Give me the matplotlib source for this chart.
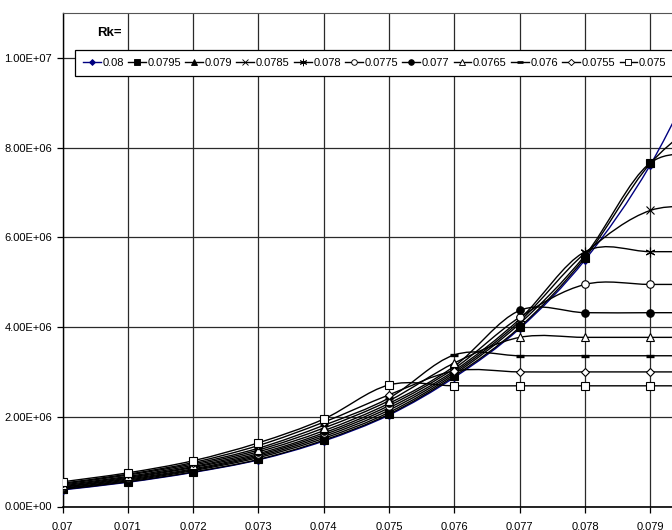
# -*- coding: utf-8 -*-

#%% Import required libraries
import matplotlib
matplotlib.use('Agg')
import matplotlib.pyplot as plt
import numpy as np
from matplotlib.path import Path
from matplotlib.patches import PathPatch
from matplotlib.lines import Line2D

plt.rcParams['font.family'] = ['Liberation Sans Narrow', 'Liberation Sans', 'DejaVu Sans']

#%% Data (values in millions)
x_vals = [0.070, 0.071, 0.072, 0.073, 0.074, 0.075, 0.076, 0.077, 0.078, 0.079, 0.080]
x_ticks = [0.070, 0.071, 0.072, 0.073, 0.074, 0.075, 0.076, 0.077, 0.078, 0.079]
x_labels = ['0.07', '0.071', '0.072', '0.073', '0.074', '0.075', '0.076', '0.077', '0.078', '0.079']
y_ticks = [0, 2e6, 4e6, 6e6, 8e6, 1e7]

rk_labels = ['0.08', '0.0795', '0.079', '0.0785', '0.078', '0.0775',
             '0.077', '0.0765', '0.076', '0.0755', '0.075']

p_080  = [0.37, 0.54, 0.76, 1.04, 1.46, 2.04, 2.88, 3.97, 5.50, 7.62, 10.5]
p_0795 = [0.38, 0.55, 0.77, 1.05, 1.48, 2.06, 2.91, 4.00, 5.55, 7.65, 8.85]
p_079  = [0.40, 0.57, 0.80, 1.09, 1.52, 2.10, 2.95, 4.08, 5.60, 7.66, 7.78]
p_0785 = [0.41, 0.59, 0.82, 1.12, 1.56, 2.15, 2.99, 4.13, 5.65, 6.60, 6.65]
p_078  = [0.43, 0.61, 0.84, 1.15, 1.60, 2.20, 3.03, 4.18, 5.68, 5.68, 5.68]
p_0775 = [0.44, 0.63, 0.87, 1.18, 1.64, 2.25, 3.08, 4.22, 4.95, 4.95, 4.95]
p_077  = [0.46, 0.65, 0.89, 1.22, 1.69, 2.30, 3.13, 4.37, 4.32, 4.32, 4.32]
p_0765 = [0.48, 0.67, 0.92, 1.26, 1.75, 2.36, 3.20, 3.77, 3.77, 3.77, 3.77]
p_076  = [0.50, 0.70, 0.95, 1.30, 1.81, 2.42, 3.38, 3.36, 3.36, 3.36, 3.36]
p_0755 = [0.52, 0.72, 0.98, 1.36, 1.88, 2.49, 3.02, 3.00, 3.00, 3.00, 3.00]
p_075  = [0.55, 0.75, 1.02, 1.42, 1.95, 2.71, 2.69, 2.69, 2.69, 2.69, 2.69]

series = [p_080, p_0795, p_079, p_0785, p_078, p_0775, p_077, p_0765, p_076, p_0755, p_075]

#%% Styles (Excel-like markers)
line_col = ['#000080'] + ['black'] * 10
mk = ['D', 's', '^', 'x', (6, 2, 0), 'o', 'o', '^', '_', 'D', 's']
mk_face = ['#000080', 'black', 'black', 'black', 'black', 'white', 'black', 'white', 'black', 'white', 'white']
mk_size = [4.0, 5.2, 5.5, 6.0, 7.0, 5.4, 5.4, 5.5, 5.5, 4.3, 5.4]
mk_ew = [0.8, 0.8, 0.8, 0.8, 0.8, 0.8, 0.8, 0.8, 2.4, 0.8, 0.8]


def smooth_path(xs, ys):
    # Catmull-Rom style bezier through the points, like Excel's smoothed line
    pts = np.column_stack([xs, ys])
    n = len(pts)
    verts = [pts[0]]
    codes = [Path.MOVETO]
    for i in range(n - 1):
        p0 = pts[i - 1] if i > 0 else pts[i]
        p1 = pts[i]
        p2 = pts[i + 1]
        p3 = pts[i + 2] if i + 2 < n else pts[i + 1]
        verts += [p1 + (p2 - p0) / 6, p2 - (p3 - p1) / 6, p2]
        codes += [Path.CURVE4] * 3
    return Path(verts, codes)


#%% Plot
fig = plt.figure(figsize=(6.72, 5.30), dpi=100)
ax = fig.add_axes([62.5 / 672, 1 - 506.5 / 530, 1 - 62.5 / 672, 493.5 / 530])

for k, vals in enumerate(series):
    yv = np.array(vals) * 1e6
    patch = PathPatch(smooth_path(np.array(x_vals), yv), facecolor='none',
                      edgecolor=line_col[k], lw=1.0, zorder=3 + 2 * k)
    ax.add_patch(patch)
    ax.plot(x_vals, yv, linestyle='none', marker=mk[k], ms=mk_size[k],
            mfc=mk_face[k], mec=line_col[k], mew=mk_ew[k], zorder=4 + 2 * k)

ax.set_xlim(0.07, 0.07933)
ax.set_ylim(0, 1.1e7)
ax.set_xticks(x_ticks)
ax.set_xticklabels(x_labels)
ax.set_yticks(y_ticks)
ax.set_yticklabels(['%.2E' % v for v in y_ticks])
ax.tick_params(axis='both', direction='out', length=4, width=0.9, labelsize=8, colors='black')
ax.tick_params(axis='x', pad=7.5)
ax.tick_params(axis='y', pad=3.5)

ax.grid(True, color='#2a2a2a', lw=0.9)
ax.set_axisbelow(True)
ax.spines['right'].set_visible(False)
ax.spines['top'].set_color('#555555')
ax.spines['left'].set_linewidth(1.0)
ax.spines['bottom'].set_linewidth(1.2)

# Legend in one row
handles = []
for k in range(len(series)):
    handles.append(Line2D([], [], color=line_col[k], lw=1.0, marker=mk[k], ms=mk_size[k],
                          mfc=mk_face[k], mec=line_col[k], mew=mk_ew[k] * 0.8))
leg = fig.legend(handles, rk_labels, loc='upper left', bbox_to_anchor=(75 / 672, 1 - 50 / 530),
                 ncol=11, fontsize=8, frameon=True, fancybox=False, borderaxespad=0,
                 borderpad=0.7, handlelength=1.6, handletextpad=0.15, columnspacing=0.38,
                 markerscale=0.75)
leg.get_frame().set_edgecolor('black')
leg.get_frame().set_linewidth(0.9)
leg.get_frame().set_alpha(1)

fig.text(122 / 672, 1 - 33 / 530, 'Rk=', ha='right', va='center', fontsize=9.5, fontweight='bold')

plt.savefig('out.png', dpi=100)
